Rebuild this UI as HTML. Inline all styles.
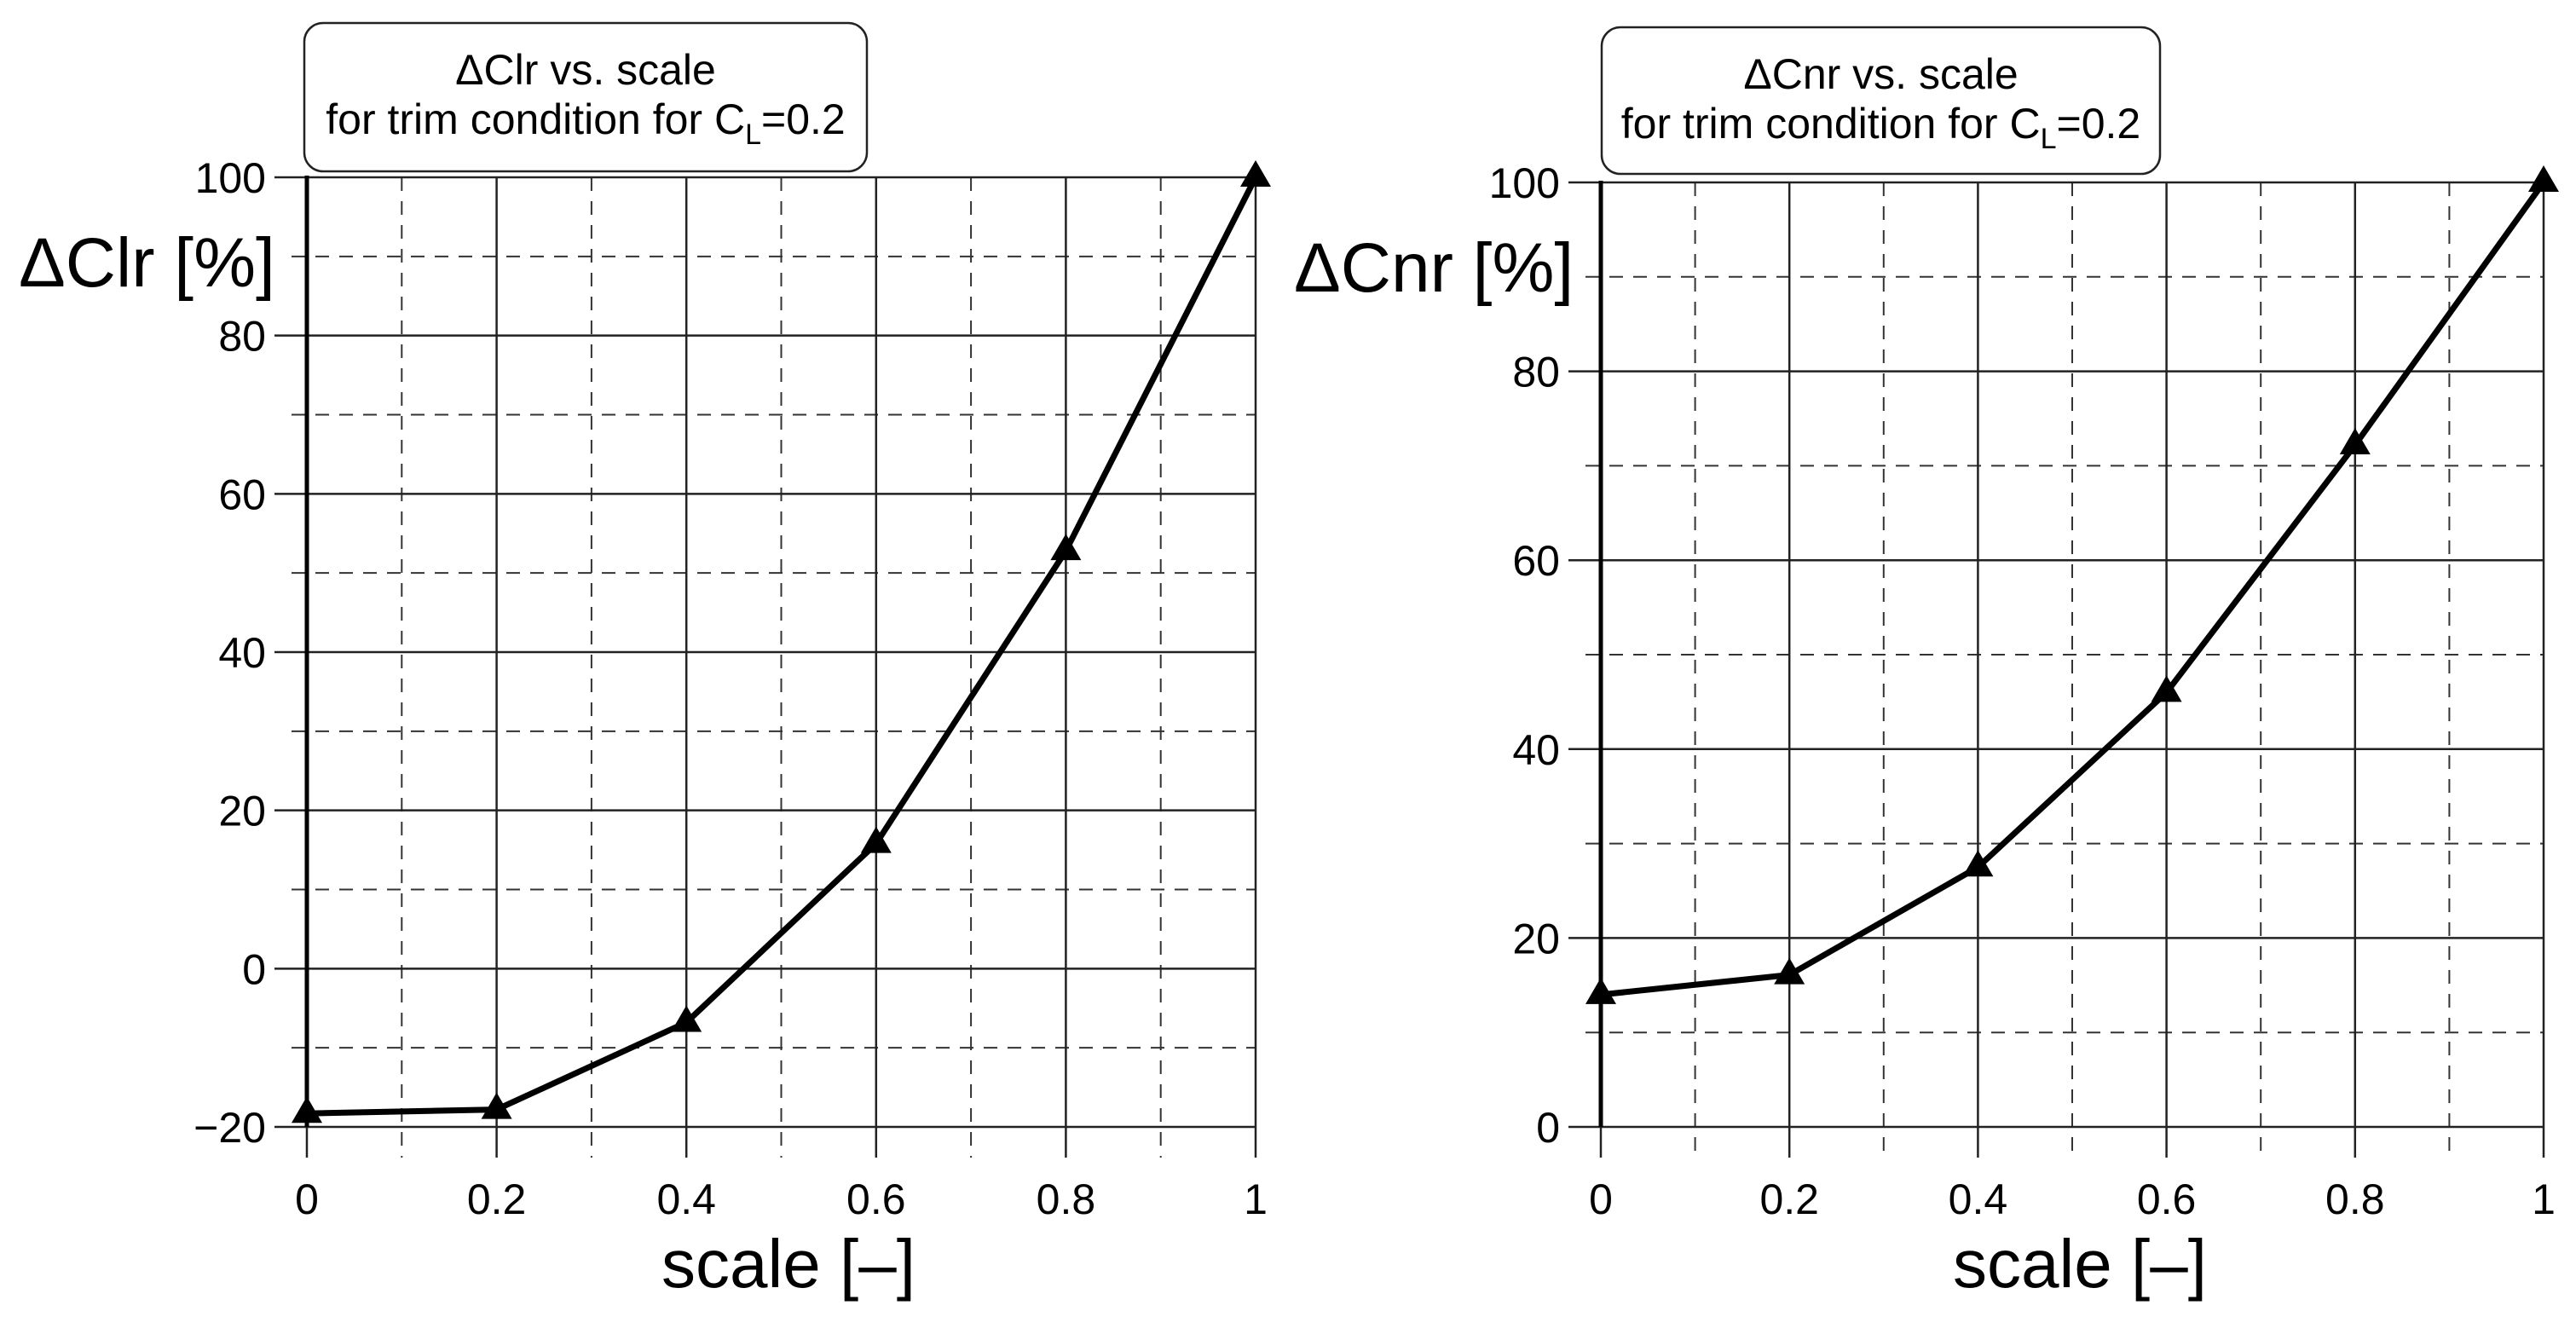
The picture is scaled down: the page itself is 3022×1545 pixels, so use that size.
<!DOCTYPE html>
<html><head><meta charset="utf-8"><style>
html,body{margin:0;padding:0;background:#fff;}
svg{display:block;font-family:"Liberation Sans",sans-serif;}
</style></head><body>
<svg id="s" width="3022" height="1545" viewBox="0 0 3022 1545"></svg>
<script>
const xTicks=[0,0.2,0.4,0.6,0.8,1];
const xTickLabels=["0","0.2","0.4","0.6","0.8","1"];
const leftScale=[0,0.2,0.4,0.6,0.8,1];
const leftValues=[-18.3,-17.8,-6.8,15.8,52.8,100];
const leftYTicks=[-20,0,20,40,60,80,100];
const rightScale=[0,0.2,0.4,0.6,0.8,1];
const rightValues=[14,16.1,27.5,46,72.2,100];
const rightYTicks=[0,20,40,60,80,100];
const NS="http://www.w3.org/2000/svg";
const svg=document.getElementById('s');
function mk(tag,attrs,parent,text){const e=document.createElementNS(NS,tag);for(const k in attrs)e.setAttribute(k,attrs[k]);if(text!==undefined)e.textContent=text;(parent||svg).appendChild(e);return e;}
function chart(cfg){
  const g=mk('g',{});
  
  
  const ymin=cfg.yTicks[0],ymax=cfg.yTicks[cfg.yTicks.length-1];
  const X=v=>cfg.x0+(cfg.x1-cfg.x0)*v;
  const Y=v=>cfg.yb-(cfg.yb-cfg.yt)*(v-ymin)/(ymax-ymin);
  for(let v=ymin+10;v<ymax;v+=20){
    const l=mk('line',{x1:X(0)-18,x2:X(1),y1:Y(v),y2:Y(v),stroke:'#333','stroke-width':2,'stroke-dasharray':'16,12'},g);
    
    
  }
  for(let i=0;i<5;i++){
    const v=0.1+0.2*i;
    const l=mk('line',{x1:X(v),x2:X(v),y1:Y(ymax),y2:Y(ymin)+36,stroke:'#333','stroke-width':2,'stroke-dasharray':'16,12'},g);
    
    
  }
  cfg.yTicks.forEach(v=>{
    const l=mk('line',{x1:X(0)-38,x2:X(1),y1:Y(v),y2:Y(v),stroke:'#222','stroke-width':2.5},g);
    
    
    const t=mk('text',{x:X(0)-48,y:Y(v)+18,'text-anchor':'end','font-size':50,fill:'#000'},g,(v<0?'\u2212':'')+Math.abs(v));
    
    
  });
  xTicks.forEach((v,i)=>{
    const l=mk('line',{x1:X(v),x2:X(v),y1:Y(ymax),y2:Y(ymin)+36,stroke:'#222','stroke-width':2.5},g);
    
    
    const t=mk('text',{x:X(v),y:Y(ymin)+102,'text-anchor':'middle','font-size':50,fill:'#000'},g,xTickLabels[i]);
    
    
  });
  const ax=mk('line',{x1:X(0),x2:X(0),y1:Y(ymax)-2,y2:Y(ymin),stroke:'#000','stroke-width':5},g);
  
  
  const pts=cfg.xs.map((x,i)=>X(x)+','+Y(cfg.ys[i])).join(' ');
  const pl=mk('polyline',{points:pts,fill:'none',stroke:'#000','stroke-width':7,'stroke-linejoin':'round'},g);
  
  
  cfg.xs.forEach((x,i)=>{
    const cx=X(x),cy=Y(cfg.ys[i]);
    const m=mk('polygon',{points:`${cx},${cy-20} ${cx-18},${cy+11} ${cx+18},${cy+11}`,fill:'#000'},g);
    
    
  });
  const r=mk('rect',{x:cfg.bx,y:cfg.by,width:cfg.bw,height:cfg.bh,rx:22,fill:'#fff',stroke:'#222','stroke-width':2.5},g);
  
  
  const cx=cfg.bx+cfg.bw/2;
  const t1=mk('text',{x:cx,y:cfg.by+72,'text-anchor':'middle','font-size':50,fill:'#000'},g,cfg.title);
  
  
  const t2=mk('text',{x:cx,y:cfg.by+130,'text-anchor':'middle','font-size':50,fill:'#000'},g);
  
  
  mk('tspan',{},t2,'for trim condition for C');
  mk('tspan',{'font-size':34,dy:12},t2,'L');
  mk('tspan',{dy:-12},t2,'=0.2');
  const yt=mk('text',{x:cfg.ytx,y:cfg.yty,'font-size':82,fill:'#000'},g,cfg.ylabel);
  
  
  const xt=mk('text',{x:cfg.xtx,y:1510,'text-anchor':'middle','font-size':80,fill:'#000'},g,'scale [\u2013]');
  
  
}
chart({name:'left-chart',x0:360,x1:1473,yt:208,yb:1322,yTicks:leftYTicks,xs:leftScale,ys:leftValues,
  bx:357,by:27,bw:660,bh:174,title:'\u0394Clr vs. scale',ylabel:'\u0394Clr [%]',ytx:22,yty:336,xtx:925});
chart({name:'right-chart',x0:1878,x1:2984,yt:214,yb:1322,yTicks:rightYTicks,xs:rightScale,ys:rightValues,
  bx:1879,by:32,bw:655,bh:172,title:'\u0394Cnr vs. scale',ylabel:'\u0394Cnr [%]',ytx:1518,yty:342,xtx:2440});
</script>
</body></html>
